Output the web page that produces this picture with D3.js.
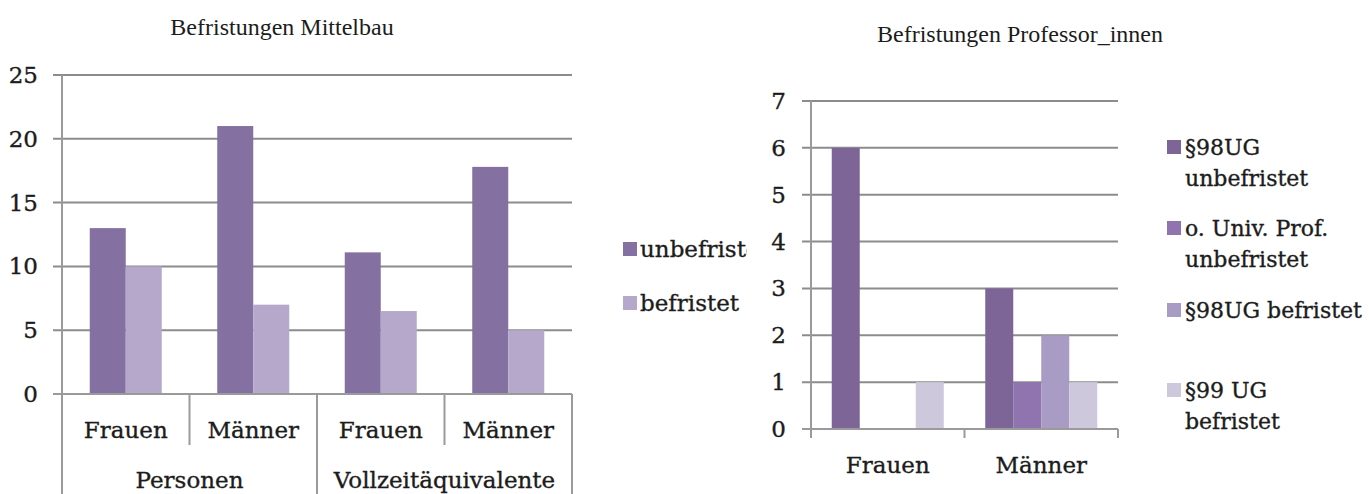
<!DOCTYPE html>
<html>
<head>
<meta charset="utf-8">
<script src="https://cdn.jsdelivr.net/npm/d3@7"></script>
<style>
  body { margin: 0; background: #fff; }
  svg text { fill: #1c1c1c; }
  .lbl { font-family: "DejaVu Serif", serif; font-size: 23px; stroke: #1c1c1c; stroke-width: 0.35px; }
  .leg { font-size: 22px; }
  .title { font-family: "Liberation Serif", serif; font-size: 24px; }
</style>
</head>
<body>
<div id="chart"></div>
<script>
// left chart: Befristungen Mittelbau
const midGroups = ["Personen", "Vollzeitäquivalente"];
const midCats = ["Frauen", "Männer", "Frauen", "Männer"];
const midSeries = ["unbefristet", "befristet"];
const midUnbefristet = [13, 21, 11.1, 17.8];
const midBefristet = [10, 7, 6.5, 5];
const midTicks = [0, 5, 10, 15, 20, 25];
const midColors = ["#8470a1", "#b5a8cb"];

// right chart: Befristungen Professor_innen
const profCats = ["Frauen", "Männer"];
const profSeries = ["§98UG unbefristet", "o. Univ. Prof. unbefristet", "§98UG befristet", "§99 UG befristet"];
const profLegendLines = [["§98UG", "unbefristet"], ["o. Univ. Prof.", "unbefristet"], ["§98UG befristet"], ["§99 UG", "befristet"]];
const prof98Unbefristet = [6, 3];
const profUnivUnbefristet = [0, 1];
const prof98Befristet = [0, 2];
const prof99Befristet = [1, 1];
const profTicks = [0, 1, 2, 3, 4, 5, 6, 7];
const profColors = ["#7d6697", "#8f74b0", "#a99cc4", "#cdc8dc"];

const W = 1369, H = 494;
const gridColor = "#8c8c8c", axisColor = "#9a9a9a";

const svg = d3.select("#chart").append("svg")
    .attr("width", W)
    .attr("height", H);

// ---------- left chart ----------
const midKeys = midCats.map((c, i) => i);
const xM = d3.scaleBand().domain(midKeys).range([62, 572]);
const xMs = d3.scaleBand().domain(midSeries).range([0, 72]);
const yM = d3.scaleLinear().domain([0, 25]).range([394, 75]);
const midData = midKeys.map(i => ({ i: i, values: [midUnbefristet[i], midBefristet[i]] }));

svg.append("text").attr("class", "title")
    .attr("x", 282).attr("y", 35)
    .attr("text-anchor", "middle")
    .text("Befristungen Mittelbau");

// gridlines
svg.append("g").selectAll("line")
    .data(midTicks)
    .enter().append("line")
    .attr("x1", 53).attr("x2", 572)
    .attr("y1", d => yM(d)).attr("y2", d => yM(d))
    .attr("stroke", gridColor).attr("stroke-width", 2);

svg.append("g").selectAll("text")
    .data(midTicks)
    .enter().append("text")
    .attr("class", "lbl")
    .attr("x", 38).attr("y", d => yM(d))
    .attr("dy", "0.35em")
    .attr("text-anchor", "end")
    .text(d => d);

// bars
const midBarW = xMs.bandwidth();
svg.append("g").selectAll("g")
    .data(midData)
    .enter().append("g")
    .attr("transform", d => `translate(${xM(d.i) + (xM.bandwidth() - 72) / 2},0)`)
    .selectAll("rect")
    .data(d => d.values.map((v, k) => ({ s: midSeries[k], v: v, k: k })))
    .enter().append("rect")
    .attr("x", d => xMs(d.s))
    .attr("y", d => yM(d.v))
    .attr("width", midBarW)
    .attr("height", d => yM(0) - yM(d.v))
    .attr("fill", d => midColors[d.k]);

// axis lines and multi-level category axis
svg.append("line")
    .attr("x1", 62).attr("x2", 62).attr("y1", yM(25)).attr("y2", H)
    .attr("stroke", axisColor).attr("stroke-width", 2);
svg.append("line")
    .attr("x1", 53).attr("x2", 572).attr("y1", yM(0)).attr("y2", yM(0))
    .attr("stroke", axisColor).attr("stroke-width", 2);

midKeys.forEach(i => {
    const xr = xM(i) + xM.bandwidth();
    const long = (i % 2 === 1);
    svg.append("line")
        .attr("x1", xr).attr("x2", xr)
        .attr("y1", yM(0)).attr("y2", long ? H : 445)
        .attr("stroke", axisColor).attr("stroke-width", 2);
    svg.append("text").attr("class", "lbl")
        .attr("x", xM(i) + xM.bandwidth() / 2).attr("y", 430)
        .attr("dy", "0.35em")
        .attr("text-anchor", "middle")
        .text(midCats[i]);
});

midGroups.forEach((g, j) => {
    svg.append("text").attr("class", "lbl")
        .attr("x", xM(j * 2) + xM.bandwidth()).attr("y", 480)
        .attr("dy", "0.35em")
        .attr("text-anchor", "middle")
        .text(g);
});

// left legend, clipped like in the original
svg.append("clipPath").attr("id", "legclip")
    .append("rect").attr("x", 0).attr("y", 0).attr("width", 747).attr("height", H);

const midLeg = svg.append("g").attr("clip-path", "url(#legclip)")
    .selectAll("g")
    .data(midSeries)
    .enter().append("g")
    .attr("transform", (d, k) => `translate(623,${249 + k * 54})`);
midLeg.append("rect")
    .attr("x", 0).attr("y", -7).attr("width", 14).attr("height", 14)
    .attr("fill", (d, k) => midColors[k]);
midLeg.append("text").attr("class", "lbl")
    .attr("x", 17).attr("y", 0).attr("dy", "0.35em")
    .text(d => d);

// ---------- right chart ----------
const xP = d3.scaleBand().domain(profCats).range([811, 1118]);
const xPs = d3.scaleBand().domain(profSeries).range([0, 112]);
const yP = d3.scaleLinear().domain([0, 7]).range([429, 101]);
const profValues = [prof98Unbefristet, profUnivUnbefristet, prof98Befristet, prof99Befristet];
const profData = profCats.map((c, i) => ({ c: c, values: profValues.map(s => s[i]) }));

svg.append("text").attr("class", "title")
    .attr("x", 1020).attr("y", 42)
    .attr("text-anchor", "middle")
    .text("Befristungen Professor_innen");

svg.append("g").selectAll("line")
    .data(profTicks)
    .enter().append("line")
    .attr("x1", 802).attr("x2", 1118)
    .attr("y1", d => yP(d)).attr("y2", d => yP(d))
    .attr("stroke", gridColor).attr("stroke-width", 2);

svg.append("g").selectAll("text")
    .data(profTicks)
    .enter().append("text")
    .attr("class", "lbl")
    .attr("x", 786).attr("y", d => yP(d))
    .attr("dy", "0.35em")
    .attr("text-anchor", "end")
    .text(d => d);

svg.append("g").selectAll("g")
    .data(profData)
    .enter().append("g")
    .attr("transform", d => `translate(${xP(d.c) + (xP.bandwidth() - 112) / 2},0)`)
    .selectAll("rect")
    .data(d => d.values.map((v, k) => ({ s: profSeries[k], v: v, k: k })))
    .enter().append("rect")
    .attr("x", d => xPs(d.s))
    .attr("y", d => yP(d.v))
    .attr("width", xPs.bandwidth())
    .attr("height", d => yP(0) - yP(d.v))
    .attr("fill", d => profColors[d.k]);

svg.append("line")
    .attr("x1", 811).attr("x2", 811).attr("y1", yP(7)).attr("y2", 438)
    .attr("stroke", axisColor).attr("stroke-width", 2);
svg.append("line")
    .attr("x1", 802).attr("x2", 1118).attr("y1", yP(0)).attr("y2", yP(0))
    .attr("stroke", axisColor).attr("stroke-width", 2);

profCats.forEach(c => {
    const xr = xP(c) + xP.bandwidth();
    svg.append("line")
        .attr("x1", xr).attr("x2", xr).attr("y1", yP(0)).attr("y2", 438)
        .attr("stroke", axisColor).attr("stroke-width", 2);
    svg.append("text").attr("class", "lbl")
        .attr("x", xP(c) + xP.bandwidth() / 2).attr("y", 465)
        .attr("dy", "0.35em")
        .attr("text-anchor", "middle")
        .text(c);
});

// right legend
const profLegY = [147, 228, 310, 390];
const profLeg = svg.append("g").selectAll("g")
    .data(profLegendLines)
    .enter().append("g")
    .attr("transform", (d, k) => `translate(1167,${profLegY[k]})`);
profLeg.append("rect")
    .attr("x", 0).attr("y", -7).attr("width", 14).attr("height", 14)
    .attr("fill", (d, k) => profColors[k]);
profLeg.append("text").attr("class", "lbl leg")
    .attr("x", 18).attr("y", 0)
    .selectAll("tspan")
    .data(d => d)
    .enter().append("tspan")
    .attr("x", 18)
    .attr("dy", (d, j) => j === 0 ? "0.35em" : "1.4em")
    .text(d => d);
</script>
</body>
</html>
